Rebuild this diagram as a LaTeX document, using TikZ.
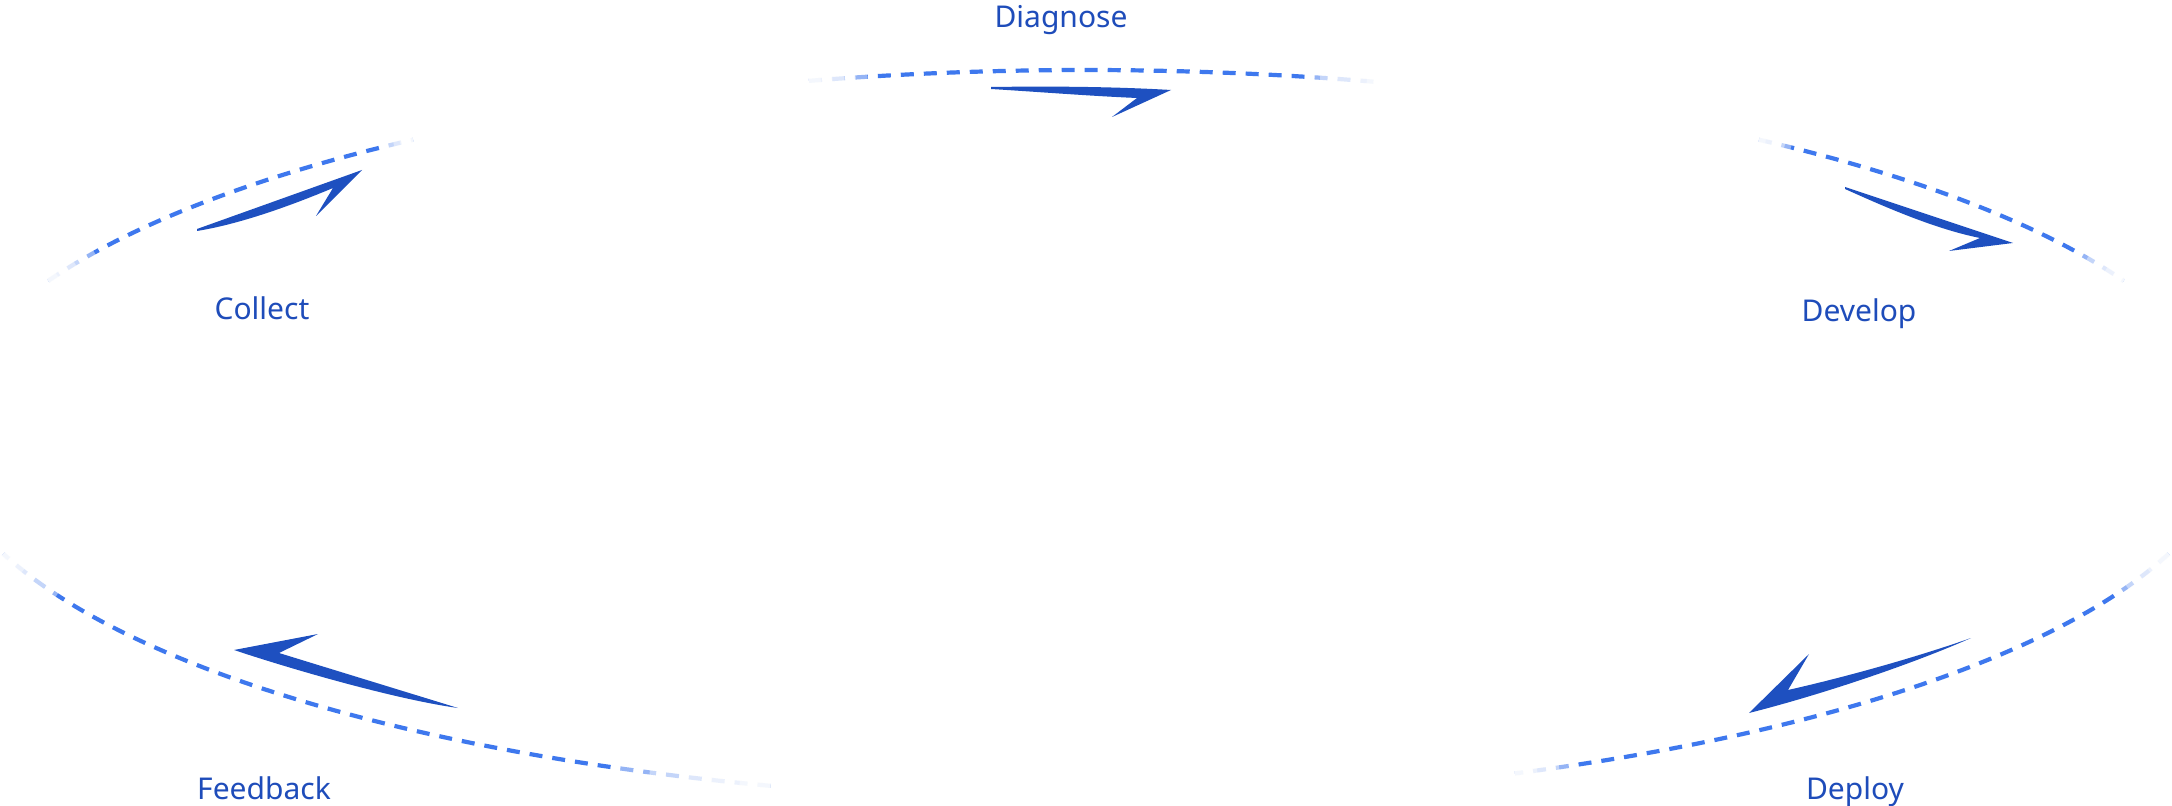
\documentclass[tikz,border=0pt]{standalone}
\usepackage{fontspec}
\setmainfont{Noto Sans}
\definecolor{txtblue}{RGB}{30,76,186}
\definecolor{arrblue}{RGB}{30,80,192}
\definecolor{dashblue}{RGB}{62,120,238}
\newcommand\veilarc[2]{%
  \foreach \k in {1,...,5}{%
    \pgfmathsetmacro\tb{#1+(#2)*\k/5}%
    \pgfmathsetmacro\tlo{min(#1,\tb)}%
    \pgfmathsetmacro\thi{max(#1,\tb)}%
    \draw[veil] plot[domain=\tlo:\thi, samples=12, variable=\t] ({1086+1145*cos(\t)},{435+365*sin(\t)});
  }}
\begin{document}
\begin{tikzpicture}[x=0.5pt,y=-0.5pt,
  lbl/.style={font=\fontsize{15}{18}\selectfont, text=txtblue, anchor=base, inner sep=0pt},
  ring/.style={draw=dashblue, line width=2.1pt, dash pattern=on 6.5pt off 5pt},
  harpoon/.style={fill=arrblue, draw=none},
  veil/.style={draw=white, line width=3.6pt, opacity=0.45}]
\useasboundingbox (0,0) rectangle (2172,806);
\fill[white] (0,0) rectangle (2172,806);

% dashed elliptical arcs
\draw[ring] plot[domain=-104:-75, samples=60, variable=\t] ({1086+1145*cos(\t)},{435+365*sin(\t)});
\draw[ring] plot[domain=-155:-126, samples=60, variable=\t] ({1086+1145*cos(\t)},{435+365*sin(\t)});
\draw[ring] plot[domain=-54:-25, samples=60, variable=\t] ({1086+1145*cos(\t)},{435+365*sin(\t)});
\draw[ring] plot[domain=106:161, samples=80, variable=\t] ({1086+1145*cos(\t)},{435+365*sin(\t)});
\draw[ring] plot[domain=19:68, samples=80, variable=\t] ({1086+1145*cos(\t)},{435+365*sin(\t)});

% faded ends
\veilarc{-104}{3}
\veilarc{-75}{-4}
\veilarc{-155}{5}
\veilarc{-126}{-2}
\veilarc{-25}{-5}
\veilarc{-54}{2}
\veilarc{161}{-7}
\veilarc{106}{8}
\veilarc{19}{7}
\veilarc{68}{-3}

% arrows
\coordinate (dgT) at (991,87);
\coordinate (dgP) at (1171,90);
\coordinate (dgB) at (1112,117);
\coordinate (dgI) at (1137,98);
\fill[harpoon] (dgT) .. controls (1060,86) and (1120,87) .. (dgP) -- (dgB) -- (dgI) .. controls (1090,96) and (1040,92) .. (991,89) -- cycle;

\coordinate (coT) at (197,229);
\coordinate (coP) at (362,170);
\coordinate (coB) at (316,216);
\coordinate (coI) at (333,188);
\fill[harpoon] (coT) -- (coP) -- (coB) -- (coI) .. controls (290,206) and (240,224) .. (197,231) -- cycle;

\coordinate (dvT) at (1845,187);
\coordinate (dvP) at (2013,243);
\coordinate (dvB) at (1949,251);
\coordinate (dvI) at (1980,238);
\fill[harpoon] (dvT) -- (dvP) -- (dvB) -- (dvI) .. controls (1935,229) and (1885,207) .. (1845,189) -- cycle;

\coordinate (fbP) at (234,650);
\coordinate (fbB) at (318,634);
\coordinate (fbI) at (279,653);
\coordinate (fbT) at (458,708);
\fill[harpoon] (fbP) -- (fbB) -- (fbI) -- (fbT) .. controls (400,700) and (300,672) .. (fbP) -- cycle;

\coordinate (dpP) at (1749,713);
\coordinate (dpB) at (1809,654);
\coordinate (dpI) at (1788,690);
\coordinate (dpT) at (1971,638);
\fill[harpoon] (dpP) .. controls (1820,695) and (1910,665) .. (dpT) .. controls (1920,656) and (1850,676) .. (dpI) -- (dpB) -- cycle;

% labels
\node[lbl] (diagnose) at (1061,28) {Diagnose};
\node[lbl] (collect) at (262,320) {Collect};
\node[lbl] (develop) at (1859,322) {Develop};
\node[lbl] (feedback) at (264,799) {Feedback};
\node[lbl] (deploy) at (1855,799) {Deploy};
\end{tikzpicture}
\end{document}
